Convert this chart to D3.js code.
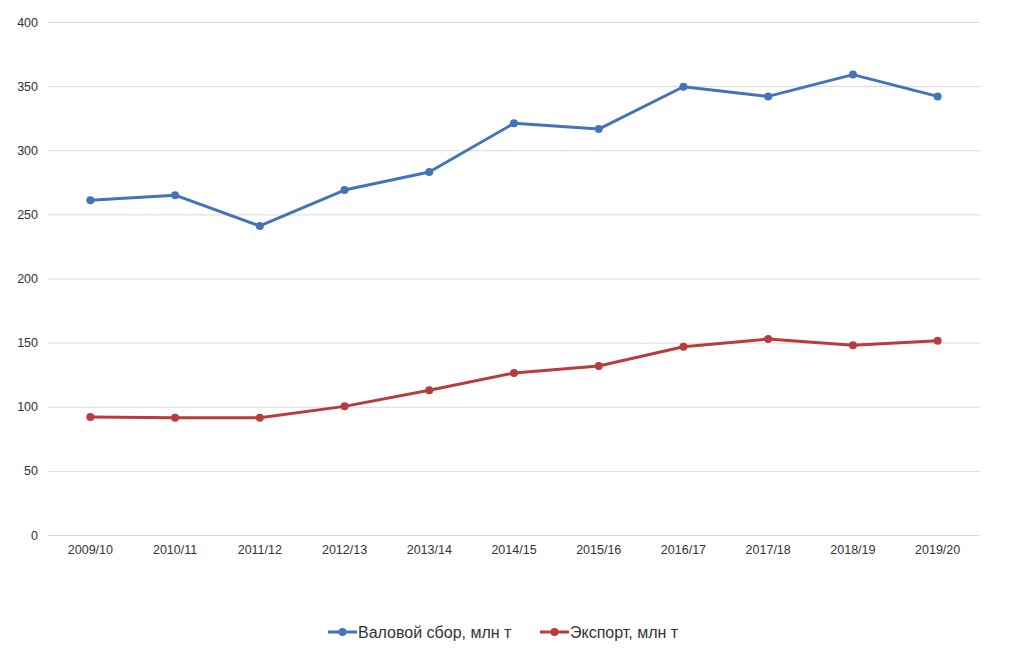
<!DOCTYPE html>
<html>
<head>
<meta charset="utf-8">
<script src="https://cdn.jsdelivr.net/npm/d3@7"></script>
<style>
	body { margin: 0; background: #fff; }
	svg { font-family: "Liberation Sans", Arial, sans-serif; }
</style>
</head>
<body>
<div id="chart"></div>
<script>
// chart data
const seasons = ["2009/10","2010/11","2011/12","2012/13","2013/14","2014/15","2015/16","2016/17","2017/18","2018/19","2019/20"];
const grossHarvest = [261, 265, 241, 269, 283, 321, 316.5, 349.5, 342, 359, 342];
const exports = [92, 91.5, 91.5, 100.3, 112.8, 126.3, 131.8, 146.8, 152.8, 148, 151.5];
const yTicks = [0, 50, 100, 150, 200, 250, 300, 350, 400];
const seriesNames = ["Валовой сбор, млн т", "Экспорт, млн т"];

const width = 1030, height = 653;
const margin = {top: 22, right: 50, bottom: 118, left: 48};
const colors = ["#4374b9", "#b93c3c"];

let svg = d3.select("#chart").append("svg")
	.attr("width", width)
	.attr("height", height);

let g = svg.append("g")
	.attr("transform", `translate(${margin.left},${margin.top})`);

const innerW = width - margin.left - margin.right;
const innerH = height - margin.top - margin.bottom;

//scales
const xScale = d3.scaleBand()
	.domain(seasons)
	.range([0, innerW]);

const yScale = d3.scaleLinear()
	.domain([0, 400])
	.range([innerH, 0]);

//gridlines + y labels
let yAxis = g.append("g")
	.call(d3.axisLeft(yScale).tickValues(yTicks).tickSize(-innerW).tickPadding(10));
yAxis.select(".domain").remove();
yAxis.selectAll("line").attr("stroke", "#d9d9d9").attr("stroke-width", 1);
yAxis.selectAll("text").attr("fill", "#333").style("font-size", "12.5px");

//x labels
let xAxis = g.append("g")
	.attr("transform", `translate(0,${innerH})`)
	.call(d3.axisBottom(xScale).tickSize(0).tickPadding(10));
xAxis.select(".domain").remove();
xAxis.selectAll("text").attr("fill", "#333").style("font-size", "12.5px");

const series = [grossHarvest, exports];
const line = d3.line()
	.x((d, i) => xScale(seasons[i]) + xScale.bandwidth() / 2)
	.y(d => yScale(d));

series.forEach((vals, s) => {
	g.append("path")
		.datum(vals)
		.attr("fill", "none")
		.attr("stroke", colors[s])
		.attr("stroke-width", 3)
		.attr("stroke-linejoin", "round")
		.attr("d", line);

	g.selectAll(`.dot${s}`)
		.data(vals)
		.join("circle")
		.attr("class", `dot${s}`)
		.attr("cx", (d, i) => xScale(seasons[i]) + xScale.bandwidth() / 2)
		.attr("cy", d => yScale(d))
		.attr("r", 4)
		.attr("fill", colors[s]);
});

//legend
let legend = svg.append("g").attr("transform", "translate(328,632)");
let legendX = [0, 212];
seriesNames.forEach((name, s) => {
	let item = legend.append("g").attr("transform", `translate(${legendX[s]},0)`);
	item.append("line")
		.attr("x1", 0).attr("x2", 29)
		.attr("stroke", colors[s]).attr("stroke-width", 3);
	item.append("circle")
		.attr("cx", 14.5).attr("r", 4).attr("fill", colors[s]);
	item.append("text")
		.attr("x", 30).attr("dy", "0.35em")
		.attr("fill", "#333")
		.style("font-size", "16px")
		.text(name);
});
</script>
</body>
</html>
